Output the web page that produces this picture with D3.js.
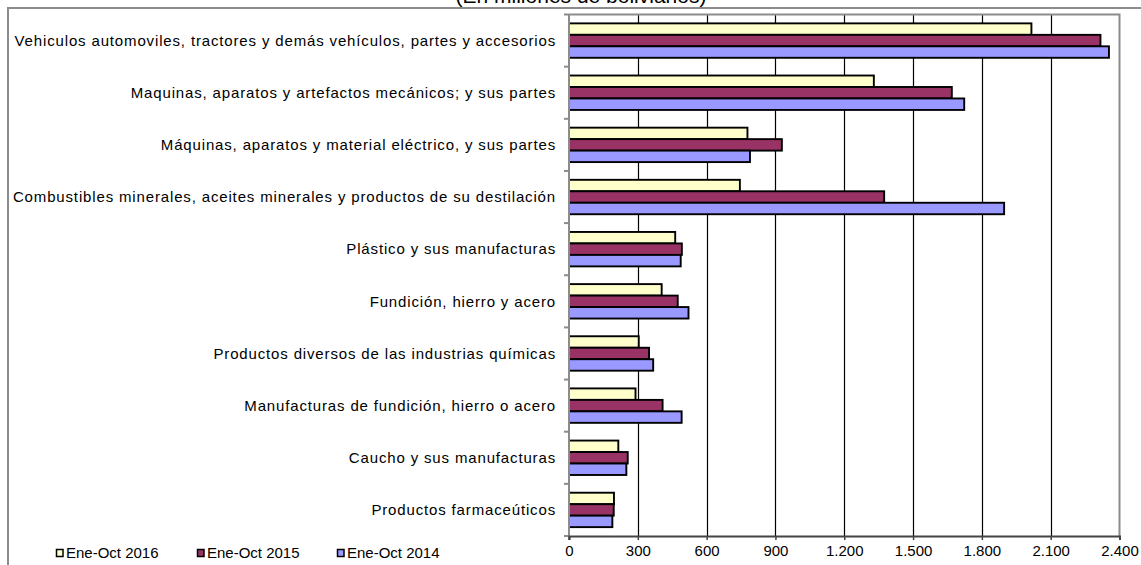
<!DOCTYPE html>
<html><head><meta charset="utf-8">
<script src="https://cdn.jsdelivr.net/npm/d3@7"></script>
<style>body{margin:0;background:#fff;overflow:hidden}svg{display:block;font-family:Arial,"Liberation Sans",sans-serif}</style>
</head><body><svg id="c" width="1141" height="565"></svg>
<script>
const title = "(En millones de bolivianos)";
const categories = [
  "Vehiculos automoviles, tractores y demás vehículos, partes y accesorios",
  "Maquinas, aparatos y artefactos mecánicos; y sus partes",
  "Máquinas, aparatos y material eléctrico, y sus partes",
  "Combustibles minerales, aceites minerales y productos de su destilación",
  "Plástico y sus manufacturas",
  "Fundición, hierro y acero",
  "Productos diversos de las industrias químicas",
  "Manufacturas de fundición, hierro o acero",
  "Caucho y sus manufacturas",
  "Productos farmaceúticos"
];
const seriesNames = ["Ene-Oct 2016", "Ene-Oct 2015", "Ene-Oct 2014"];
const values2016 = [2016, 1329, 778, 745, 463, 404, 304, 290, 215, 196];
const values2015 = [2317, 1669, 928, 1374, 492, 474, 349, 408, 256, 195];
const values2014 = [2354, 1723, 789, 1897, 487, 521, 367, 491, 250, 189];
const xTicks = [0, 300, 600, 900, 1200, 1500, 1800, 2100, 2400];
const seriesColors = ["#FFFFCC", "#993366", "#9999FF"];

const seriesValues = [values2016, values2015, values2014];
const svg = d3.select("#c");
const L = 569, R = 1119.5, T = 14.5, B = 536;
const loc = d3.formatLocale({decimal: ",", thousands: ".", grouping: [3], currency: ["", ""]});
const fmt = loc.format(",d");

// outer chart border
svg.append("rect").attr("x", 8).attr("y", 8).attr("width", 1200).attr("height", 600)
  .attr("fill", "none").attr("stroke", "#8c8c8c").attr("stroke-width", 2);

// title
svg.append("text").attr("x", 581).attr("y", 3).attr("text-anchor", "middle")
  .attr("font-size", 21).attr("fill", "#000").text(title);

const x = d3.scaleLinear().domain([0, 2400]).range([L, R]);
const y0 = d3.scaleBand().domain(categories).range([T, B]).paddingInner(0).paddingOuter(0);
const bw = y0.bandwidth();
const bh = bw * 0.22;
const y1 = d3.scaleBand().domain(seriesNames).range([(bw - 3 * bh) / 2, (bw + 3 * bh) / 2]);

// gridlines
svg.append("g").selectAll("line").data(xTicks.slice(1, -1)).join("line")
  .attr("x1", d => Math.round(x(d)) + 0.5).attr("x2", d => Math.round(x(d)) + 0.5)
  .attr("y1", T).attr("y2", B).attr("stroke", "#000").attr("stroke-width", 1.2);

// plot border (top, right)
svg.append("path").attr("d", `M${L},${T}H${R}V${B}`).attr("fill", "none")
  .attr("stroke", "#8c8c8c").attr("stroke-width", 2);

// bars
const data = [];
categories.forEach((c, i) => seriesNames.forEach((s, j) => data.push({c, s, j, v: seriesValues[j][i]})));
svg.append("g").selectAll("rect").data(data).join("rect")
  .attr("x", x(0))
  .attr("y", d => y0(d.c) + y1(d.s))
  .attr("width", d => x(d.v) - x(0))
  .attr("height", y1.bandwidth())
  .attr("fill", d => seriesColors[d.j])
  .attr("stroke", "#000").attr("stroke-width", 1.9);

// left axis
svg.append("line").attr("x1", L).attr("x2", L).attr("y1", T).attr("y2", B + 4)
  .attr("stroke", "#8c8c8c").attr("stroke-width", 2);
const bounds = categories.map(c => y0(c)).concat([B]);
svg.append("g").selectAll("line").data(bounds).join("line")
  .attr("x1", L - 5).attr("x2", L).attr("y1", d => d).attr("y2", d => d)
  .attr("stroke", "#8c8c8c").attr("stroke-width", 2);

// category labels
svg.append("g").selectAll("text").data(categories).join("text")
  .attr("x", 556).attr("y", d => y0(d) + bw / 2).attr("dy", "0.35em")
  .attr("text-anchor", "end").attr("font-size", 15).attr("letter-spacing", "0.85px")
  .attr("fill", "#000").text(d => d);

// bottom axis
const xa = svg.append("g").attr("transform", `translate(0,${B})`)
  .call(d3.axisBottom(x).tickValues(xTicks).tickFormat(fmt).tickSize(4).tickPadding(5));
xa.select(".domain").attr("stroke", "#444").attr("stroke-width", 2);
xa.selectAll(".tick line").attr("stroke", "#444").attr("stroke-width", 1.5);
xa.selectAll(".tick text").attr("font-size", 15).attr("fill", "#000")
  .attr("font-family", 'Arial,"Liberation Sans",sans-serif');

// legend
const legX = [56, 197, 337];
const lg = svg.append("g").selectAll("g").data(seriesNames).join("g")
  .attr("transform", (d, i) => `translate(${legX[i]},553)`);
lg.append("rect").attr("x", 0.5).attr("y", -3.5).attr("width", 6.5).attr("height", 7)
  .attr("fill", (d, i) => seriesColors[i]).attr("stroke", "#000").attr("stroke-width", 1.5);
lg.append("text").attr("x", 10).attr("y", 0).attr("dy", "0.35em").attr("font-size", 15)
  .attr("fill", "#000").text(d => d);
</script></body></html>
